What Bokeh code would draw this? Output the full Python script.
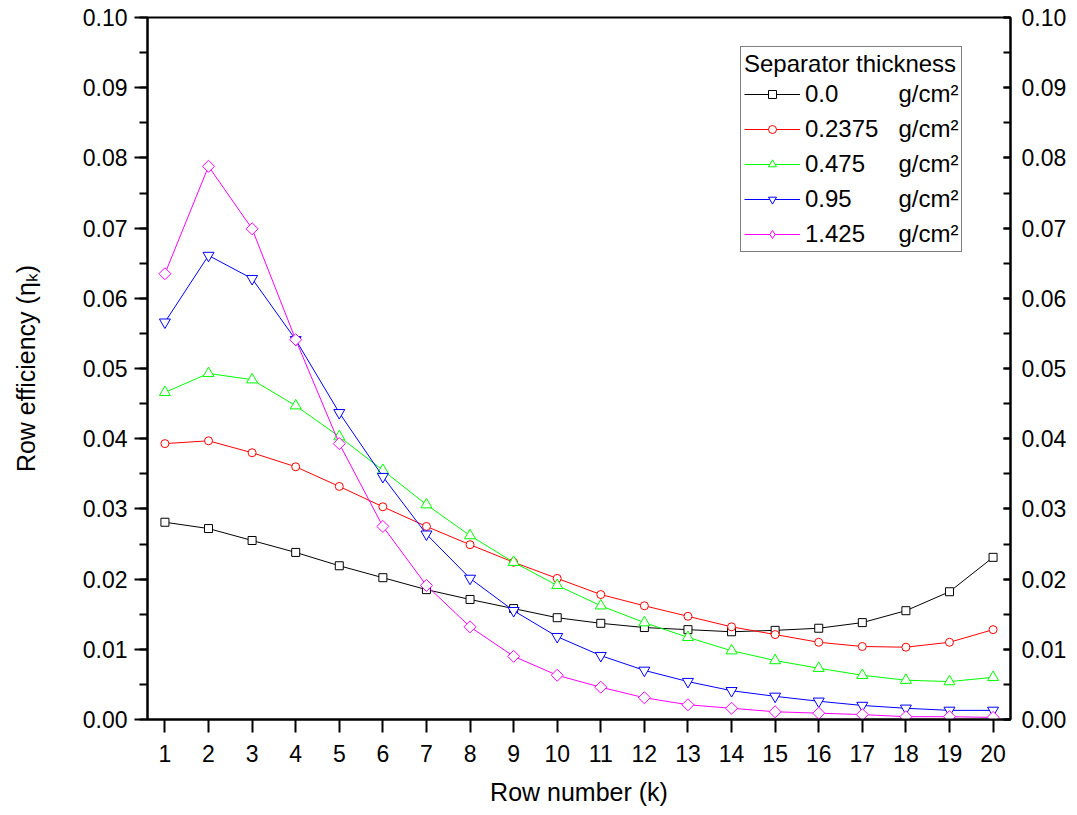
from bokeh.plotting import figure
from bokeh.models import (Range1d, LinearAxis, SingleIntervalTicker, FixedTicker,
                          NumeralTickFormatter, Legend, LegendItem)
from bokeh.embed import file_html
from bokeh.resources import INLINE
import numpy as np

rows = list(range(1, 21))

thk_00 = [0.0281, 0.0272, 0.0255, 0.0238, 0.0219, 0.0202, 0.0185, 0.0171, 0.0158, 0.0145,
          0.0137, 0.0131, 0.0128, 0.0125, 0.0127, 0.0130, 0.0138, 0.0155, 0.0182, 0.0231]
thk_02375 = [0.0393, 0.0397, 0.0380, 0.0360, 0.0332, 0.0303, 0.0275, 0.0249, 0.0224, 0.0201,
             0.0178, 0.0162, 0.0147, 0.0132, 0.0121, 0.0110, 0.0104, 0.0103, 0.0110, 0.0128]
thk_0475 = [0.0466, 0.0493, 0.0484, 0.0447, 0.0403, 0.0355, 0.0306, 0.0262, 0.0224, 0.0191,
            0.0162, 0.0138, 0.0117, 0.0098, 0.0084, 0.0073, 0.0063, 0.0056, 0.0054, 0.0060]
thk_095 = [0.0566, 0.0661, 0.0628, 0.0541, 0.0437, 0.0346, 0.0264, 0.0201, 0.0155, 0.0118,
           0.0091, 0.0070, 0.0054, 0.0041, 0.0033, 0.0026, 0.0020, 0.0016, 0.0013, 0.0013]
thk_1425 = [0.0635, 0.0788, 0.0699, 0.0541, 0.0393, 0.0275, 0.0191, 0.0132, 0.0090, 0.0063,
            0.0046, 0.0031, 0.0021, 0.0016, 0.0011, 0.0009, 0.0007, 0.0004, 0.0004, 0.0003]

series_labels = ["0.0", "0.2375", "0.475", "0.95", "1.425"]
unit_label = "g/cm\u00b2"
legend_title = "Separator thickness"
x_label = "Row number (k)"
y_label = "Row efficiency (\u03b7\u2096)"

FONT = "Liberation Sans"

p = figure(width=1069, height=813, output_backend="svg", toolbar_location=None,
           x_range=Range1d(0.6, 20.4), y_range=Range1d(0, 0.1),
           min_border_left=147, min_border_right=59, min_border_top=17, min_border_bottom=94)
p.background_fill_color = "white"
p.border_fill_color = "white"
p.outline_line_color = "black"
p.outline_line_width = 2
p.xgrid.visible = False
p.ygrid.visible = False

# bottom axis
xa = p.xaxis[0]
xa.ticker = FixedTicker(ticks=rows)
xa.axis_label = x_label
xa.axis_label_text_font = FONT
xa.axis_label_text_font_size = "25px"
xa.axis_label_text_font_style = "normal"
xa.axis_label_text_color = "black"
xa.axis_label_standoff = 13
xa.major_label_text_font = FONT
xa.major_label_text_font_size = "23px"
xa.major_label_text_color = "black"
xa.major_label_standoff = 12
xa.axis_line_width = 2
xa.major_tick_line_width = 2
xa.major_tick_out = 13
xa.major_tick_in = 0
xa.minor_tick_line_color = None

# left axis
ya = p.yaxis[0]
ya.ticker = SingleIntervalTicker(interval=0.01, num_minor_ticks=2)
ya.formatter = NumeralTickFormatter(format="0.00")
ya.axis_label = y_label
ya.axis_label_text_font = FONT
ya.axis_label_text_font_size = "25px"
ya.axis_label_text_font_style = "normal"
ya.axis_label_text_color = "black"
ya.axis_label_standoff = 40
ya.major_label_text_font = FONT
ya.major_label_text_font_size = "23px"
ya.major_label_text_color = "black"
ya.major_label_standoff = 7
ya.axis_line_width = 2
ya.major_tick_line_width = 2
ya.minor_tick_line_width = 2
ya.major_tick_out = 13
ya.major_tick_in = 0
ya.minor_tick_out = 8
ya.minor_tick_in = 0

# right axis
ra = LinearAxis(ticker=SingleIntervalTicker(interval=0.01, num_minor_ticks=2),
                formatter=NumeralTickFormatter(format="0.00"))
ra.major_label_text_font = FONT
ra.major_label_text_font_size = "23px"
ra.major_label_text_color = "black"
ra.major_label_standoff = 11
ra.axis_line_width = 2
ra.major_tick_line_width = 2
ra.minor_tick_line_width = 2
ra.major_tick_out = 0
ra.major_tick_in = 7
ra.minor_tick_out = 0
ra.minor_tick_in = 7
p.add_layout(ra, "right")

series = [thk_00, thk_02375, thk_0475, thk_095, thk_1425]
colors = ["black", "#FF0000", "#00FF00", "#0000FF", "#FF00FF"]
markers = ["square", "circle", "triangle", "inverted_triangle", "square"]
legend_markers = ["square", "circle", "triangle", "inverted_triangle", "diamond"]
sizes = [8, 8, 11, 11, 8.5]
angles = [0, 0, 0, 0, np.pi / 4]


def padded(lab):
    # pad with non-breaking spaces so the unit column aligns (digit = 2 spaces in Arial metrics)
    n_digits = sum(c.isdigit() for c in lab)
    width = n_digits * 2 + lab.count(".")
    return lab + "\u00a0" * (11 - width + 3) + unit_label


items = []
for vals, col, mk, lmk, sz, ang, lab in zip(series, colors, markers, legend_markers,
                                            sizes, angles, series_labels):
    ln = p.line(rows, vals, line_color=col, line_width=1)
    p.scatter(rows, vals, marker=mk, size=sz, angle=ang, line_color=col,
              fill_color="white", line_width=1)
    # legend sample marker: hidden in the plot, used only for the legend key
    key = p.scatter(rows, vals, marker=lmk, line_color=col, fill_color="white", line_width=1)
    key.visible = False
    items.append(LegendItem(label=padded(lab), renderers=[ln, key], index=0))

legend = Legend(items=items, location=(593, 467))
legend.title = legend_title
legend.title_text_font = FONT
legend.title_text_font_size = "24px"
legend.title_text_font_style = "normal"
legend.title_text_color = "black"
legend.title_standoff = 2
legend.label_text_font = FONT
legend.label_text_font_size = "24px"
legend.label_text_color = "black"
legend.label_standoff = 5
legend.glyph_width = 56
legend.glyph_height = 20
legend.label_height = 20
legend.spacing = 7
legend.padding = 3
legend.margin = 0
legend.border_line_color = "black"
legend.border_line_width = 1
legend.background_fill_alpha = 1
p.add_layout(legend, "center")

open("out.html", "w").write(file_html(p, INLINE))
